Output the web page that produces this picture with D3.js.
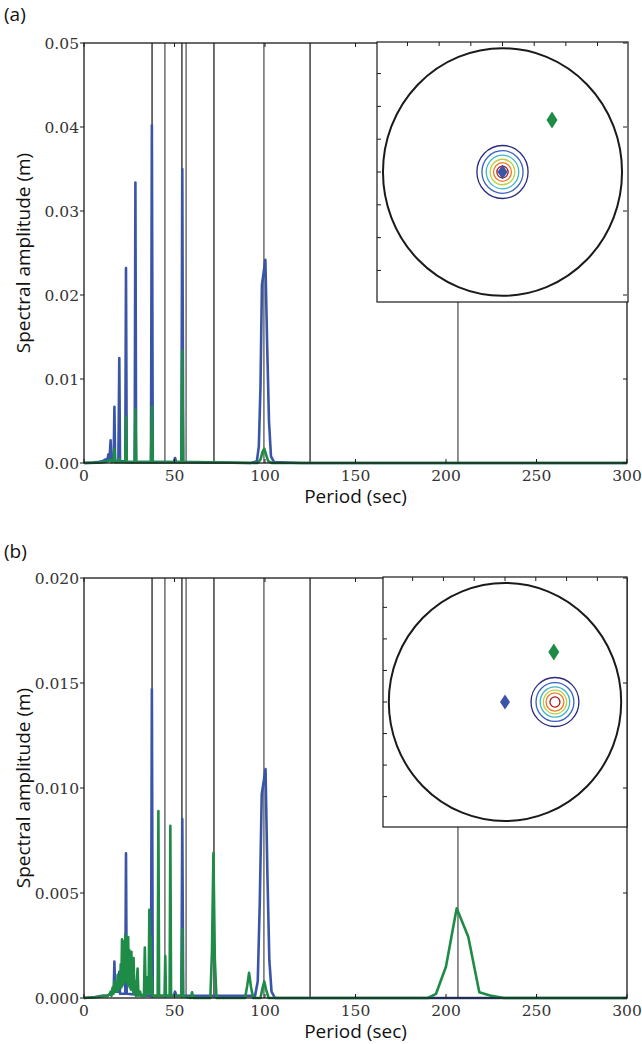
<!DOCTYPE html>
<html>
<head>
<meta charset="utf-8">
<script src="https://cdn.jsdelivr.net/npm/d3@7"></script>
<style>
    html, body { margin: 0; padding: 0; background: #ffffff; }
    #chart { width: 642px; height: 1044px; }
</style>
</head>
<body>
<div id="chart"></div>
<script>
// ---- data ----
var periodTicks = [0, 50, 100, 150, 200, 250, 300];
var ampTicksA = [0, 0.01, 0.02, 0.03, 0.04, 0.05];
var ampTicksB = [0, 0.005, 0.010, 0.015, 0.020];
var modePeriods = [37.6, 44.7, 54.1, 56.4, 71.8, 99.4, 124.9, 206.6];

// [period (s), amplitude (m)]
var blueA = [
    [0, 0], [5, 0.00005], [7, 0.0001], [8.5, 0.00015], [10, 0.0002], [11, 0.0003], [11.5, 0.0004], [12, 0.0002],
    [12.6, 0.0005], [13.0, 0.0002], [13.4, 0.001], [13.8, 0.0003], [14.1, 0.0005], [14.7, 0.0027], [15.1, 0.0003],
    [15.8, 0.0003], [16.4, 0.0005], [16.8, 0.0067], [17.2, 0.0002], [18.5, 0.0002], [19.0, 0.0004], [19.5, 0.0125],
    [19.9, 0.0002], [22.8, 0.0002], [23.2, 0.0232], [23.6, 0.0001], [28.0, 0.0001], [28.4, 0.0334], [28.8, 0.0001],
    [37.0, 0.0001], [37.5, 0.0402], [38.0, 0.0001], [49.6, 0.0001], [50.3, 0.0006], [51.0, 0.0001], [53.8, 0.0001],
    [54.3, 0.035], [54.8, 0.0001], [62, 0.0001], [92, 0], [95.5, 0.0002], [96.6, 0.002], [97.5, 0.009],
    [98.3, 0.0212], [100.2, 0.0242], [101.2, 0.014], [102.2, 0.005], [103.3, 0.0008], [105, 0.0001], [120, 0], [300, 0]
];
var greenA = [
    [0, 0], [8, 0.00005], [11, 0.0001], [13, 0.0002], [14.7, 0.0004], [15.3, 0.0001], [16.4, 0.0002], [16.8, 0.0017],
    [17.2, 0.0001], [19.1, 0.0001], [19.5, 0.0005], [19.9, 0.0001], [22.8, 0.0001], [23.2, 0.0055], [23.6, 0.0001],
    [28.0, 0.0001], [28.4, 0.0064], [28.8, 0.0001], [37.0, 0.0001], [37.5, 0.0067], [38.0, 0.0001], [53.8, 0.0001],
    [54.3, 0.0134], [54.8, 0.0001], [96, 0], [97.5, 0.0004], [98.6, 0.0013], [99.6, 0.0017], [100.6, 0.0010],
    [101.8, 0.0002], [104, 0], [300, 0]
];
var blueB = [
    [0, 0], [6, 0.00005], [10, 0.0001], [13, 0.0001], [14.5, 0.0002], [15.5, 0.0003], [16.4, 0.0003], [16.8, 0.00173],
    [17.2, 0.0003], [19.1, 0.0003], [19.5, 0.00125], [19.9, 0.0002], [22.8, 0.0002], [23.2, 0.00689], [23.6, 0.0002],
    [37.0, 0.0001], [37.5, 0.0147], [38.0, 0.0001], [49.6, 0.0001], [50.3, 0.0003], [51, 0.0001], [53.8, 0.0001],
    [54.3, 0.00852], [54.8, 0.0001], [94.5, 0.0001], [96, 0.0008], [97.1, 0.0045], [98.2, 0.0097], [100.3, 0.0109],
    [101.3, 0.006], [102.4, 0.0018], [103.6, 0.0003], [105.5, 0], [300, 0]
];
var greenB = [
    [0, 0], [8, 0.00005], [11, 0.0001], [13, 0.0001], [14.3, 0.0002], [14.7, 0.0003], [15.2, 0.0001], [15.8, 0.0005],
    [16.3, 0.0002], [16.8, 0.0008], [17.3, 0.0003], [17.8, 0.0006], [18.2, 0.0003], [18.6, 0.0011], [19.0, 0.0004],
    [19.5, 0.001], [19.9, 0.0005], [20.3, 0.0016], [20.6, 0.0005], [21.0, 0.0028], [21.3, 0.0006], [21.6, 0.0027],
    [21.9, 0.0007], [22.3, 0.0025], [22.5, 0.0008], [22.8, 0.003], [23.05, 0.0009], [23.3, 0.0029], [23.55, 0.0008],
    [23.8, 0.0027], [24.1, 0.0007], [24.4, 0.0029], [24.7, 0.0006], [25.0, 0.0023], [25.3, 0.0005], [25.6, 0.002],
    [25.9, 0.0004], [26.2, 0.0022], [26.5, 0.0004], [26.8, 0.0012], [27.1, 0.0003], [27.4, 0.0019], [27.8, 0.0002],
    [28.2, 0.0008], [28.7, 0.0001], [29.6, 0.0014], [30.1, 0.0001], [31.0, 0.0003], [31.5, 0.0001], [33.1, 0.0001],
    [33.6, 0.0024], [34.1, 0.0001], [35.3, 0.001], [35.7, 0.0002], [36.1, 0.0042], [36.5, 0.0003], [36.9, 0.0029],
    [37.2, 0.0002], [37.5, 0.001], [38, 0.0001], [40.7, 0.0001], [41.1, 0.0089], [41.5, 0.0001], [44.5, 0.0001],
    [44.9, 0.002], [45.3, 0.0001], [47.3, 0.0001], [47.7, 0.0082], [48.1, 0.0001], [53.9, 0.0001], [54.3, 0.0033],
    [54.7, 0.0001], [59.0, 0], [59.7, 0.00027], [60.4, 0], [69.8, 0], [70.7, 0.0022], [71.5, 0.0069], [72.3, 0.0018],
    [73.2, 0], [89, 0], [90.2, 0.0006], [91.2, 0.0012], [92.3, 0.0005], [93.5, 0], [97.5, 0], [98.7, 0.0005],
    [99.6, 0.00078], [100.6, 0.0004], [102, 0], [190, 0], [194.5, 0.0002], [200, 0.0015], [205.9, 0.00427],
    [212.3, 0.00292], [218.4, 0.00027], [225.2, 0.0001], [232, 0], [300, 0]
];

// inset maps, unit circle coordinates
var insetTicks = [-0.795, -0.53, -0.265, 0, 0.265, 0.53, 0.795];
var contourColors = ['#2b2a7f', '#3b62c0', '#3fb6c6', '#b9cf3c', '#f07a22', '#a3161a'];
var contourRadiiA = [0.214, 0.172, 0.136, 0.103, 0.075, 0.047];
var contourRadiiB = [0.206, 0.163, 0.127, 0.100, 0.077, 0.043];
var contourCenterA = [0, 0];
var contourCenterB = [0.43, 0];
var blueStationA = [0, 0];
var greenStationA = [0.414, 0.42];
var blueStationB = [0, 0];
var greenStationB = [0.42, 0.42];

// ---- styles ----
var BLUE = '#3a55a8', GREEN = '#1e8c46';
var tickFont = '15.5px "DejaVu Serif", serif';
var labelFont = '19px "Open Sans", "Noto Sans", sans-serif';

var svg = d3.select('#chart').append('svg')
        .attr('width', 642)
        .attr('height', 1044);

var renderInset = function(g, box, cfg) {
    var sx = d3.scaleLinear().domain([-1.05, 1.05]).range([box.x0, box.x1]),
        sy = d3.scaleLinear().domain([-1.05, 1.05]).range([box.y1, box.y0]),
        ux = sx(1) - sx(0), uy = sy(0) - sy(1),
        inset = g.append('g').attr('class', 'inset');

    inset.append('rect')
            .attr('x', box.x0).attr('y', box.y0)
            .attr('width', box.x1 - box.x0).attr('height', box.y1 - box.y0)
            .attr('fill', '#ffffff')
            .attr('stroke', '#1a1a1a')
            .attr('stroke-width', 1.2);

    inset.selectAll('.itx').data(insetTicks).enter().append('line')
            .attr('x1', function(d){ return sx(d); }).attr('x2', function(d){ return sx(d); })
            .attr('y1', box.y0).attr('y2', box.y0 + 4)
            .attr('stroke', '#1a1a1a').attr('stroke-width', 1);
    inset.selectAll('.ity').data(insetTicks).enter().append('line')
            .attr('y1', function(d){ return sy(d); }).attr('y2', function(d){ return sy(d); })
            .attr('x1', box.x0).attr('x2', box.x0 + 4)
            .attr('stroke', '#1a1a1a').attr('stroke-width', 1);

    inset.append('ellipse')
            .attr('cx', sx(0)).attr('cy', sy(0))
            .attr('rx', ux).attr('ry', uy)
            .attr('fill', 'none')
            .attr('stroke', '#1a1a1a')
            .attr('stroke-width', 2);

    inset.selectAll('.contour').data(cfg.radii).enter().append('ellipse')
            .attr('cx', sx(cfg.center[0])).attr('cy', sy(cfg.center[1]))
            .attr('rx', function(d){ return d * ux; })
            .attr('ry', function(d){ return d * uy; })
            .attr('fill', 'none')
            .attr('stroke', function(d, i){ return contourColors[i]; })
            .attr('stroke-width', 1.3);

    var diamond = function(p, w, h, color) {
        inset.append('path')
                .attr('d', 'M0,' + (-h) + ' L' + w + ',0 L0,' + h + ' L' + (-w) + ',0 Z')
                .attr('transform', 'translate(' + sx(p[0]) + ',' + sy(p[1]) + ')')
                .attr('fill', color);
    };
    diamond(cfg.blue, 5, 7.5, BLUE);
    diamond(cfg.green, 5.5, 8.5, GREEN);
};

var renderPanel = function(cfg) {
    var g = svg.append('g').attr('class', 'panel-' + cfg.tag),
        x = d3.scaleLinear().domain([0, 300]).range([cfg.left, cfg.right]),
        y = d3.scaleLinear().domain([0, cfg.yMax]).range([cfg.bottom, cfg.top]),
        line = d3.line().x(function(d){ return x(d[0]); }).y(function(d){ return y(d[1]); });

    // normal mode periods
    g.selectAll('.mode').data(modePeriods).enter().append('line')
            .attr('x1', function(d){ return x(d); }).attr('x2', function(d){ return x(d); })
            .attr('y1', cfg.top).attr('y2', cfg.bottom)
            .attr('stroke', function(d, i){ return (i % 2 == 0) ? '#222222' : '#555555'; })
            .attr('stroke-width', 1.3);

    g.append('path').datum(cfg.blue)
            .attr('d', line)
            .attr('fill', 'none')
            .attr('stroke', BLUE)
            .attr('stroke-width', 2.6)
            .attr('stroke-linejoin', 'round');

    g.append('path').datum(cfg.green)
            .attr('d', line)
            .attr('fill', 'none')
            .attr('stroke', GREEN)
            .attr('stroke-width', 2.6)
            .attr('stroke-linejoin', 'round');

    // frame
    g.append('rect')
            .attr('x', cfg.left).attr('y', cfg.top)
            .attr('width', cfg.right - cfg.left).attr('height', cfg.bottom - cfg.top)
            .attr('fill', 'none')
            .attr('stroke', '#1a1a1a')
            .attr('stroke-width', 1.3);

    g.selectAll('.xt').data(periodTicks).enter().append('line')
            .attr('x1', function(d){ return x(d); }).attr('x2', function(d){ return x(d); })
            .attr('y1', cfg.bottom).attr('y2', cfg.bottom - 4)
            .attr('stroke', '#1a1a1a');
    g.selectAll('.xtt').data(periodTicks).enter().append('line')
            .attr('x1', function(d){ return x(d); }).attr('x2', function(d){ return x(d); })
            .attr('y1', cfg.top).attr('y2', cfg.top + 4)
            .attr('stroke', '#1a1a1a');
    g.selectAll('.yt').data(cfg.yTicks).enter().append('line')
            .attr('y1', function(d){ return y(d); }).attr('y2', function(d){ return y(d); })
            .attr('x1', cfg.left - 4).attr('x2', cfg.left)
            .attr('stroke', '#1a1a1a');

    renderInset(g, cfg.inset, cfg.insetData);

    // right side ticks sit on top of the inset
    g.selectAll('.ytr').data(cfg.yTicks).enter().append('line')
            .attr('y1', function(d){ return y(d); }).attr('y2', function(d){ return y(d); })
            .attr('x1', cfg.right - 4).attr('x2', cfg.right)
            .attr('stroke', '#1a1a1a');

    g.selectAll('.xl').data(periodTicks).enter().append('text')
            .attr('x', function(d){ return x(d); })
            .attr('y', cfg.bottom + 17.5)
            .attr('text-anchor', 'middle')
            .attr('fill', '#333333')
            .style('font', tickFont)
            .text(function(d){ return d; });

    g.selectAll('.yl').data(cfg.yTicks).enter().append('text')
            .attr('x', cfg.left - 5)
            .attr('y', function(d){ return y(d); })
            .attr('dy', '0.36em')
            .attr('text-anchor', 'end')
            .attr('fill', '#333333')
            .style('font', tickFont)
            .text(function(d){ return d3.format(cfg.fmt)(d); });

    g.append('text')
            .attr('x', (cfg.left + cfg.right) / 2)
            .attr('y', cfg.bottom + 40)
            .attr('text-anchor', 'middle')
            .attr('fill', '#111111')
            .style('font', labelFont)
            .text('Period (sec)');

    g.append('text')
            .attr('text-anchor', 'middle')
            .attr('transform', 'translate(30,' + ((cfg.top + cfg.bottom) / 2) + ')rotate(-90)')
            .attr('fill', '#111111')
            .style('font', labelFont)
            .text('Spectral amplitude (m)');

    g.append('text')
            .attr('x', 4)
            .attr('y', cfg.tagY)
            .attr('fill', '#111111')
            .style('font', labelFont)
            .text('(' + cfg.tag + ')');
};

renderPanel({
    tag: 'a', tagY: 21,
    left: 84, right: 627, top: 43, bottom: 463,
    yMax: 0.05, yTicks: ampTicksA, fmt: '.2f',
    blue: blueA, green: greenA,
    inset: {x0: 377, x1: 628, y0: 42, y1: 302},
    insetData: {radii: contourRadiiA, center: contourCenterA, blue: blueStationA, green: greenStationA}
});

renderPanel({
    tag: 'b', tagY: 558,
    left: 84, right: 627, top: 578, bottom: 998,
    yMax: 0.02, yTicks: ampTicksB, fmt: '.3f',
    blue: blueB, green: greenB,
    inset: {x0: 383, x1: 627, y0: 577, y1: 827},
    insetData: {radii: contourRadiiB, center: contourCenterB, blue: blueStationB, green: greenStationB}
});
</script>
</body>
</html>
